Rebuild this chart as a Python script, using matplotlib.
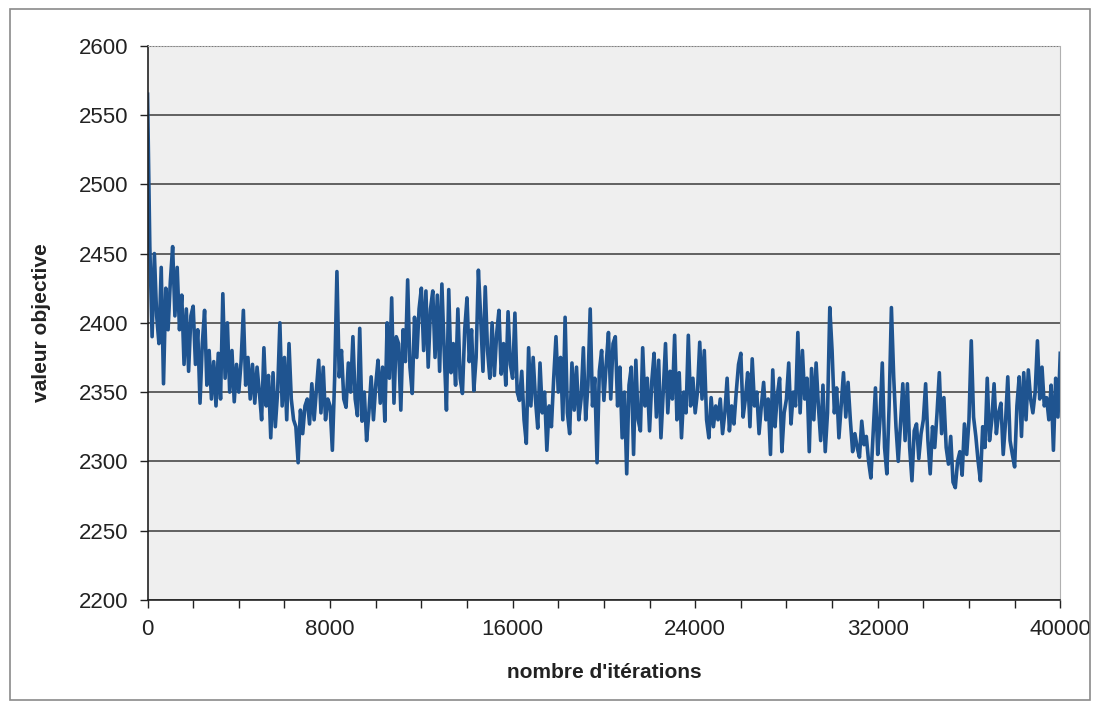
import numpy as np
import matplotlib
matplotlib.use('Agg')
import matplotlib.pyplot as plt
from matplotlib.patches import Rectangle
from matplotlib.ticker import MultipleLocator

# valeur objective read every 100 iterations, one row = 1000 iterations
valeurs = [
    2565, 2455, 2390, 2450, 2405, 2385, 2440, 2356, 2425, 2395,
    2430, 2455, 2405, 2440, 2395, 2420, 2370, 2410, 2365, 2405,
    2412, 2370, 2395, 2342, 2385, 2409, 2355, 2380, 2345, 2372,
    2340, 2378, 2345, 2421, 2360, 2400, 2350, 2380, 2343, 2370,
    2350, 2372, 2409, 2355, 2375, 2345, 2370, 2342, 2368, 2350,
    2330, 2382, 2340, 2362, 2317, 2364, 2325, 2350, 2400, 2340,
    2375, 2330, 2385, 2345, 2330, 2325, 2299, 2337, 2320, 2340,
    2345, 2327, 2356, 2330, 2352, 2373, 2335, 2368, 2330, 2345,
    2340, 2308, 2360, 2437, 2361, 2380, 2345, 2339, 2371, 2350,
    2390, 2345, 2333, 2396, 2329, 2350, 2315, 2335, 2361, 2330,
    2355, 2373, 2342, 2368, 2329, 2400, 2360, 2418, 2342, 2390,
    2385, 2337, 2395, 2372, 2431, 2368, 2349, 2404, 2375, 2410,
    2425, 2380, 2423, 2368, 2410, 2423, 2375, 2420, 2365, 2428,
    2380, 2337, 2424, 2364, 2385, 2355, 2410, 2360, 2349, 2395,
    2418, 2372, 2395, 2351, 2375, 2438, 2404, 2365, 2426, 2380,
    2360, 2400, 2362, 2392, 2409, 2363, 2385, 2355, 2408, 2370,
    2360, 2407, 2350, 2344, 2365, 2330, 2313, 2382, 2340, 2375,
    2345, 2324, 2371, 2335, 2350, 2308, 2340, 2325, 2360, 2390,
    2350, 2375, 2330, 2404, 2335, 2320, 2371, 2337, 2368, 2330,
    2345, 2382, 2330, 2355, 2410, 2340, 2360, 2299, 2365, 2380,
    2344, 2370, 2393, 2345, 2385, 2390, 2340, 2368, 2317, 2350,
    2291, 2355, 2368, 2305, 2373, 2330, 2322, 2382, 2340, 2360,
    2322, 2358, 2378, 2332, 2373, 2317, 2350, 2385, 2335, 2365,
    2345, 2391, 2330, 2364, 2317, 2350, 2335, 2391, 2340, 2360,
    2335, 2350, 2386, 2345, 2380, 2330, 2317, 2346, 2325, 2340,
    2330, 2345, 2320, 2335, 2360, 2322, 2340, 2327, 2350, 2370,
    2378, 2332, 2345, 2364, 2325, 2374, 2340, 2350, 2320, 2340,
    2357, 2330, 2345, 2305, 2366, 2325, 2348, 2360, 2307, 2335,
    2345, 2371, 2327, 2350, 2340, 2393, 2335, 2380, 2345, 2360,
    2307, 2367, 2330, 2371, 2340, 2315, 2355, 2307, 2335, 2411,
    2380, 2335, 2353, 2317, 2340, 2364, 2332, 2357, 2330, 2307,
    2320, 2310, 2303, 2329, 2312, 2318, 2300, 2288, 2320, 2353,
    2305, 2330, 2371, 2310, 2291, 2340, 2411, 2361, 2325, 2300,
    2327, 2356, 2315, 2356, 2310, 2286, 2322, 2327, 2302, 2320,
    2330, 2356, 2315, 2291, 2325, 2310, 2335, 2364, 2320, 2346,
    2310, 2298, 2318, 2285, 2281, 2300, 2307, 2290, 2327, 2305,
    2330, 2387, 2332, 2318, 2300, 2286, 2325, 2310, 2360, 2315,
    2330, 2356, 2320, 2335, 2342, 2305, 2328, 2361, 2315, 2305,
    2296, 2340, 2361, 2318, 2364, 2330, 2366, 2345, 2335, 2350,
    2387, 2345, 2368, 2340, 2346, 2330, 2355, 2308, 2360, 2332,
    2378,
]
pas = 100
iterations = np.arange(len(valeurs)) * pas

plt.rcParams['font.family'] = ['Liberation Sans', 'DejaVu Sans']

fig = plt.figure(figsize=(11.01, 7.15), dpi=100)
ax = fig.add_axes([0.134, 0.161, 0.829, 0.775])

# frame around the whole chart
fig.patches.append(Rectangle((0.009, 0.021), 0.981, 0.967, transform=fig.transFigure,
                             fill=False, edgecolor='#8a8a8a', linewidth=1.2))

ax.set_facecolor('#efefef')
ax.plot(iterations, valeurs, color='#1f5490', linewidth=2.6, solid_joinstyle='round')

ax.set_xlim(0, 40000)
ax.set_ylim(2200, 2600)
ax.xaxis.set_major_locator(MultipleLocator(8000))
ax.xaxis.set_minor_locator(MultipleLocator(2000))
ax.yaxis.set_major_locator(MultipleLocator(50))

ax.grid(axis='y', color='#3a3a3a', linewidth=1.1)
ax.set_axisbelow(True)

ax.tick_params(axis='both', which='major', direction='out', length=6, width=1,
               labelsize=16, colors='#222222', pad=8)
ax.tick_params(axis='x', which='minor', direction='out', length=6, width=1, colors='#222222')

for s in ['left', 'bottom']:
    ax.spines[s].set_color('#222222')
    ax.spines[s].set_linewidth(1.2)
ax.spines['right'].set_color('#b0b0b0')
ax.spines['top'].set_color('#b0b0b0')
ax.spines['top'].set_linestyle(':')

ax.set_xlabel("nombre d'itérations", fontsize=15, fontweight='bold', color='#222222', labelpad=16)
ax.set_ylabel('valeur objective', fontsize=15, fontweight='bold', color='#222222', labelpad=20)

fig.savefig('out.png', dpi=100)
